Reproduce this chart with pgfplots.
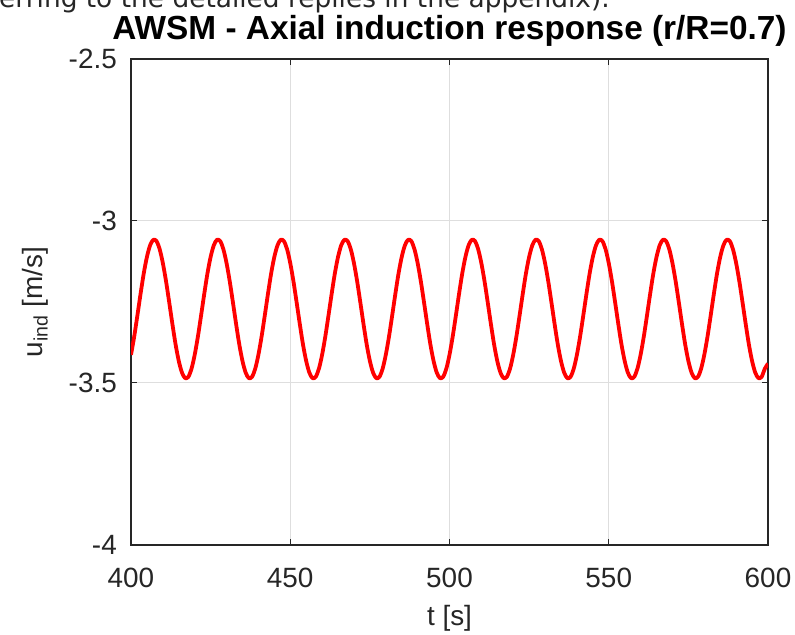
\documentclass[border=0pt]{standalone}
\usepackage{pgfplots}
\usepackage{pgfplotstable}
\pgfplotsset{compat=1.18}
\usepackage{fontspec}
\setmainfont{Liberation Sans}
\newfontfamily\docfont{DejaVu Sans}
\definecolor{axgray}{RGB}{38,38,38}
\definecolor{gridgray}{RGB}{222,222,222}

% axial induction at r/R=0.7 at 1 s steps
\pgfplotstableread{
t u
400 -3.413
401 -3.357
402 -3.292
403 -3.225
404 -3.162
405 -3.111
406 -3.075
407 -3.058
408 -3.062
409 -3.087
410 -3.130
411 -3.186
412 -3.251
413 -3.318
414 -3.381
415 -3.432
416 -3.468
417 -3.485
418 -3.481
419 -3.456
420 -3.413
421 -3.357
422 -3.292
423 -3.225
424 -3.162
425 -3.111
426 -3.075
427 -3.058
428 -3.062
429 -3.087
430 -3.130
431 -3.186
432 -3.251
433 -3.318
434 -3.381
435 -3.432
436 -3.468
437 -3.485
438 -3.481
439 -3.456
440 -3.413
441 -3.357
442 -3.292
443 -3.225
444 -3.162
445 -3.111
446 -3.075
447 -3.058
448 -3.062
449 -3.087
450 -3.130
451 -3.186
452 -3.251
453 -3.318
454 -3.381
455 -3.432
456 -3.468
457 -3.485
458 -3.481
459 -3.456
460 -3.413
461 -3.357
462 -3.292
463 -3.225
464 -3.162
465 -3.111
466 -3.075
467 -3.058
468 -3.062
469 -3.087
470 -3.130
471 -3.186
472 -3.251
473 -3.318
474 -3.381
475 -3.432
476 -3.468
477 -3.485
478 -3.481
479 -3.456
480 -3.413
481 -3.357
482 -3.292
483 -3.225
484 -3.162
485 -3.111
486 -3.075
487 -3.058
488 -3.062
489 -3.087
490 -3.130
491 -3.186
492 -3.251
493 -3.318
494 -3.381
495 -3.432
496 -3.468
497 -3.485
498 -3.481
499 -3.456
500 -3.413
501 -3.357
502 -3.292
503 -3.225
504 -3.162
505 -3.111
506 -3.075
507 -3.058
508 -3.062
509 -3.087
510 -3.130
511 -3.186
512 -3.251
513 -3.318
514 -3.381
515 -3.432
516 -3.468
517 -3.485
518 -3.481
519 -3.456
520 -3.413
521 -3.357
522 -3.292
523 -3.225
524 -3.162
525 -3.111
526 -3.075
527 -3.058
528 -3.062
529 -3.087
530 -3.130
531 -3.186
532 -3.251
533 -3.318
534 -3.381
535 -3.432
536 -3.468
537 -3.485
538 -3.481
539 -3.456
540 -3.413
541 -3.357
542 -3.292
543 -3.225
544 -3.162
545 -3.111
546 -3.075
547 -3.058
548 -3.062
549 -3.087
550 -3.130
551 -3.186
552 -3.251
553 -3.318
554 -3.381
555 -3.432
556 -3.468
557 -3.485
558 -3.481
559 -3.456
560 -3.413
561 -3.357
562 -3.292
563 -3.225
564 -3.162
565 -3.111
566 -3.075
567 -3.058
568 -3.062
569 -3.087
570 -3.130
571 -3.186
572 -3.251
573 -3.318
574 -3.381
575 -3.432
576 -3.468
577 -3.485
578 -3.481
579 -3.456
580 -3.413
581 -3.357
582 -3.292
583 -3.225
584 -3.162
585 -3.111
586 -3.075
587 -3.058
588 -3.062
589 -3.087
590 -3.130
591 -3.186
592 -3.251
593 -3.318
594 -3.381
595 -3.432
596 -3.468
597 -3.485
598 -3.481
599 -3.456
600 -3.440
}\induction

\begin{document}
\begin{tikzpicture}
% cut-off line of the surrounding document text
\node[anchor=base west, inner sep=0pt, text=black!85,
      font=\docfont\fontsize{26.5}{30}\selectfont] at (-1bp,627.5bp)
      {erring to the detailed replies in the appendix).};
\begin{axis}[
    at={(131bp,90bp)}, anchor=south west,
    scale only axis,
    width=637bp, height=486bp,
    xmin=400, xmax=600,
    ymin=-4, ymax=-2.5,
    xtick={400,450,500,550,600},
    ytick={-4,-3.5,-3,-2.5},
    /pgf/number format/assume math mode=true,
    /pgf/number format/fixed,
    grid=major,
    major grid style={gridgray, line width=1bp},
    axis line style={axgray, line width=1.3bp},
    tick style={axgray, line width=1bp},
    tick align=inside,
    major tick length=6bp,
    tick label style={font=\fontsize{28}{30}\selectfont, text=axgray},
    xticklabel style={anchor=north, inner sep=0pt, yshift=-23bp},
    yticklabel style={anchor=east, inner sep=0pt, xshift=-14bp},
    title={AWSM - Axial induction response (r/R=0.7)},
    title style={font=\bfseries\fontsize{33.5}{36}\selectfont, inner sep=0pt,
                 at={(axis description cs:0.5,1.0288)}, anchor=base},
    xlabel={t [s]},
    ylabel={u\textsubscript{ind} [m/s]},
    every axis x label/.style={at={(axis description cs:0.5,-0.15)}, anchor=center,
                               font=\fontsize{28}{30}\selectfont, text=axgray},
    every axis y label/.style={at={(axis description cs:-0.151,0.5)}, rotate=90, anchor=center,
                               font=\fontsize{28}{30}\selectfont, text=axgray},
]
\addplot[red, line width=3.8bp, smooth, line join=round] table[x=t, y=u] {\induction};
\end{axis}
\pgfresetboundingbox
\useasboundingbox (0bp,0bp) rectangle (795bp,635bp);
\end{tikzpicture}
\end{document}
